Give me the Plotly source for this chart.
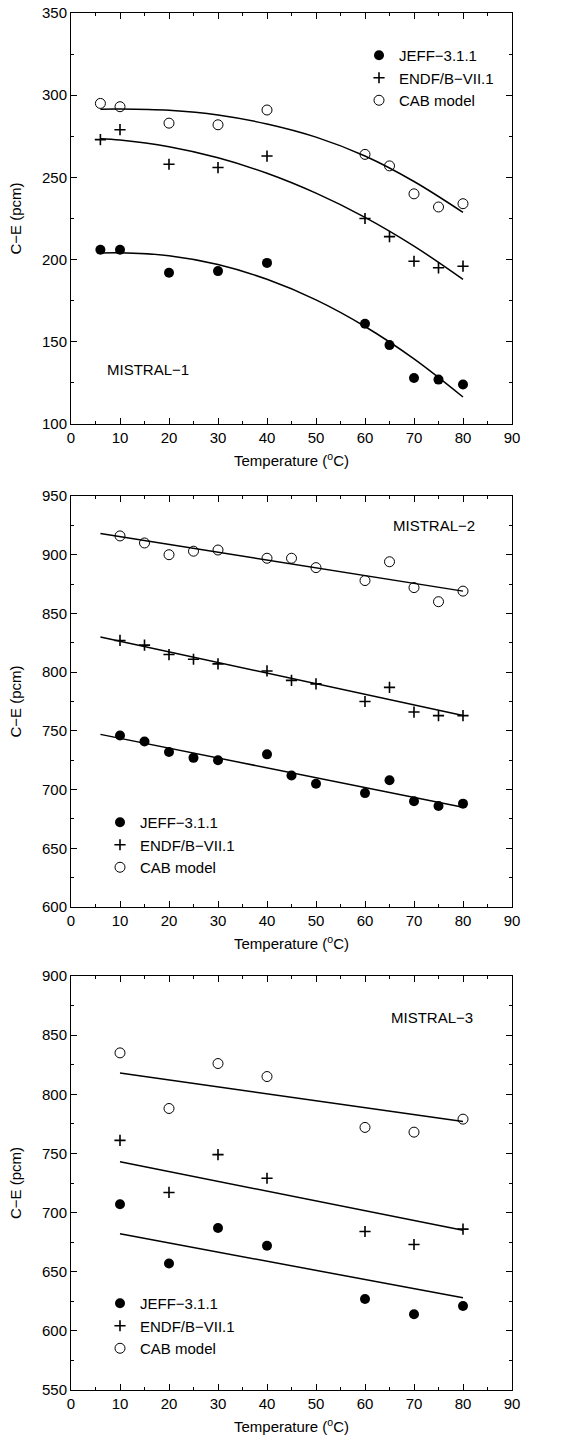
import plotly.graph_objects as go

# ---------------- data ----------------
p1_temp = [6, 10, 20, 30, 40, 60, 65, 70, 75, 80]
p1_jeff = [206, 206, 192, 193, 198, 161, 148, 128, 127, 124]
p1_endf = [273, 279, 258, 256, 263, 225, 214, 199, 195, 196]
p1_cab = [295, 293, 283, 282, 291, 264, 257, 240, 232, 234]
p1_fit_temp = [6, 10, 20, 30, 40, 50, 60, 70, 80]
p1_fit_jeff = [204, 204.2, 202.4, 197, 188, 175.5, 159.3, 139.6, 116.4]
p1_fit_endf = [273.5, 272.7, 268.6, 261.9, 252.5, 240.4, 225.7, 208.2, 188]
p1_fit_cab = [291.5, 291.6, 290.8, 288, 282.5, 274.5, 263, 247.5, 228.7]

p2_temp = [10, 15, 20, 25, 30, 40, 45, 50, 60, 65, 70, 75, 80]
p2_jeff = [746, 741, 732, 727, 725, 730, 712, 705, 697, 708, 690, 686, 688]
p2_endf = [827, 823, 815, 811, 807, 801, 793, 790, 775, 787, 766, 763, 763]
p2_cab = [916, 910, 900, 903, 904, 897, 897, 889, 878, 894, 872, 860, 869]
p2_fit_temp = [6, 80]
p2_fit_jeff = [747, 685]
p2_fit_endf = [830, 763]
p2_fit_cab = [918, 869]

p3_temp = [10, 20, 30, 40, 60, 70, 80]
p3_jeff = [707, 657, 687, 672, 627, 614, 621]
p3_endf = [761, 717, 749, 729, 684, 673, 686]
p3_cab = [835, 788, 826, 815, 772, 768, 779]
p3_fit_temp = [10, 80]
p3_fit_jeff = [682, 628]
p3_fit_endf = [743, 685]
p3_fit_cab = [818, 777]

series_names = ["JEFF\u22123.1.1", "ENDF/B\u2212VII.1", "CAB model"]
panel_labels = ["MISTRAL\u22121", "MISTRAL\u22122", "MISTRAL\u22123"]
y_ranges = [[100, 350], [600, 950], [550, 900]]
x_range = [0, 90]

FONT = "Liberation Sans, Arial, Helvetica, sans-serif"

panels = [
    (p1_temp, [p1_jeff, p1_endf, p1_cab], p1_fit_temp, [p1_fit_jeff, p1_fit_endf, p1_fit_cab], "spline"),
    (p2_temp, [p2_jeff, p2_endf, p2_cab], p2_fit_temp, [p2_fit_jeff, p2_fit_endf, p2_fit_cab], "linear"),
    (p3_temp, [p3_jeff, p3_endf, p3_cab], p3_fit_temp, [p3_fit_jeff, p3_fit_endf, p3_fit_cab], "linear"),
]

marker_styles = [
    dict(symbol="circle", size=10, color="black"),
    dict(symbol="cross-thin", size=8, color="black", line=dict(color="black", width=1.6)),
    dict(symbol="circle-open", size=10, color="black", line=dict(color="black", width=1)),
]

fig = go.Figure()
legend_ids = ["legend", "legend2", "legend3"]

for i, (tx, ys, ftx, fys, shape) in enumerate(panels):
    xa = "x" if i == 0 else f"x{i+1}"
    ya = "y" if i == 0 else f"y{i+1}"
    for fy in fys:
        fig.add_trace(go.Scatter(x=ftx, y=fy, mode="lines", xaxis=xa, yaxis=ya,
                                 line=dict(color="black", width=1.5, shape=shape),
                                 showlegend=False, hoverinfo="skip"))
    for name, y, ms in zip(series_names, ys, marker_styles):
        fig.add_trace(go.Scatter(x=tx, y=y, mode="markers", name=name, xaxis=xa, yaxis=ya,
                                 marker=ms, legend=legend_ids[i]))

# layout geometry (pixels -> paper)
T, B = 13, 50
H = 1440 - T - B
def py(px):
    return (1440 - B - px) / H

domains = [[py(424), 1.0], [py(907), py(496)], [0.0, py(976)]]

axis_common = dict(showline=True, linecolor="black", linewidth=1, mirror="ticks",
                   ticks="inside", ticklen=6, tickwidth=1, tickcolor="black",
                   showgrid=False, zeroline=False,
                   tickfont=dict(family=FONT, size=15, color="black"))

for i in range(3):
    xk = "xaxis" if i == 0 else f"xaxis{i+1}"
    yk = "yaxis" if i == 0 else f"yaxis{i+1}"
    ya = "y" if i == 0 else f"y{i+1}"
    xa = "x" if i == 0 else f"x{i+1}"
    fig.update_layout({
        xk: dict(axis_common, range=x_range, dtick=10, tick0=0, anchor=ya,
                 domain=[0, 1],
                 minor=dict(dtick=5, ticks="inside", ticklen=3, tickcolor="black", showgrid=False),
                 title=dict(text="Temperature (<sup>o</sup>C)", standoff=10,
                            font=dict(family=FONT, size=15, color="black"))),
        yk: dict(axis_common, range=y_ranges[i], dtick=50, anchor=xa, domain=domains[i],
                 minor=dict(dtick=25, ticks="inside", ticklen=3, tickcolor="black", showgrid=False),
                 title=dict(text="C\u2212E (pcm)", standoff=16,
                            font=dict(family=FONT, size=15, color="black"))),
    })

# panel labels
fig.add_annotation(x=6.9, y=133, xref="x", yref="y", text=panel_labels[0], showarrow=False,
                   xanchor="left", yanchor="middle", font=dict(family=FONT, size=15, color="black"))
fig.add_annotation(x=82.9, y=925, xref="x2", yref="y2", text=panel_labels[1], showarrow=False,
                   xanchor="right", yanchor="middle", font=dict(family=FONT, size=15, color="black"))
fig.add_annotation(x=82.5, y=865, xref="x3", yref="y3", text=panel_labels[2], showarrow=False,
                   xanchor="right", yanchor="middle", font=dict(family=FONT, size=15, color="black"))

L, R = 71, 73
W = 585 - L - R
def px_x(px):
    return (px - L) / W

leg_common = dict(bgcolor="rgba(0,0,0,0)", borderwidth=0, itemwidth=30,
                  font=dict(family=FONT, size=15, color="black"),
                  xanchor="left", yanchor="top", tracegroupgap=0)
fig.update_layout(
    legend=dict(leg_common, x=px_x(359), y=py(39)),
    legend2=dict(leg_common, x=px_x(100), y=py(806)),
    legend3=dict(leg_common, x=px_x(100), y=py(1287)),
)

fig.update_layout(
    width=585, height=1440,
    margin=dict(l=L, r=R, t=T, b=B, autoexpand=False),
    paper_bgcolor="white", plot_bgcolor="white",
    font=dict(family=FONT, size=15, color="black"),
)

fig.write_html("out.html")
